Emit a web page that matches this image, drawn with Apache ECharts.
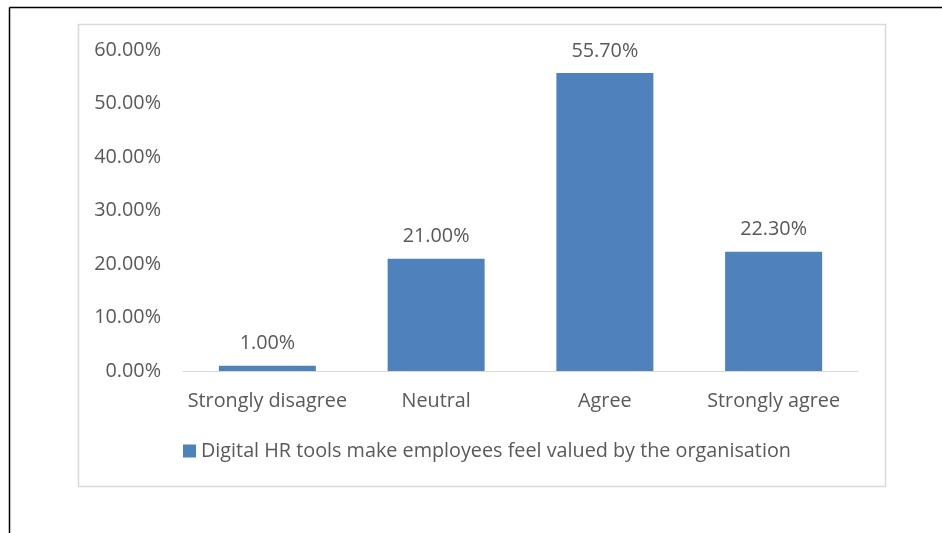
<!DOCTYPE html>
<html><head><meta charset="utf-8">
<script src="https://cdn.jsdelivr.net/npm/echarts@6/dist/echarts.min.js"></script>
<style>html,body{margin:0;padding:0;background:#fff}#c{width:942px;height:533px}</style>
</head><body><div id="c"></div>
<script>
const categories = ['Strongly disagree', 'Neutral', 'Agree', 'Strongly agree'];
const values = [1.0, 21.0, 55.7, 22.3];
const seriesName = 'Digital HR tools make employees feel valued by the organisation';
const yTicks = {min: 0, max: 60, interval: 10};

const font = '"Open Sans", sans-serif';
const fs = 19.8;
const chart = echarts.init(document.getElementById('c'), null, {renderer: 'canvas'});
chart.setOption({
  animation: false,
  backgroundColor: '#fff',
  graphic: [
    {type: 'line', shape: {x1: 9.5, y1: 7.5, x2: 942, y2: 7.5}, style: {stroke: '#000', lineWidth: 1.5}},
    {type: 'line', shape: {x1: 9.5, y1: 7.5, x2: 9.5, y2: 533}, style: {stroke: '#000', lineWidth: 1.5}},
    {type: 'rect', shape: {x: 78.5, y: 24.5, width: 807, height: 462}, style: {fill: 'none', stroke: '#d9d9d9', lineWidth: 1.5}, z: -1}
  ],
  grid: {left: 183, right: 84, top: 50, bottom: 162, containLabel: false},
  legend: {
    data: [seriesName], left: 178, top: 436, itemWidth: 13, itemHeight: 13, itemGap: 6,
    icon: 'rect',
    textStyle: {fontFamily: font, fontSize: fs, color: '#595959', padding: [0, 0, 0, 0]}
  },
  xAxis: {
    type: 'category', data: categories,
    axisLine: {lineStyle: {color: '#d9d9d9', width: 1}},
    axisTick: {show: false},
    axisLabel: {fontFamily: font, fontSize: fs, color: '#595959', margin: 20, interval: 0}
  },
  yAxis: {
    type: 'value', min: yTicks.min, max: yTicks.max, interval: yTicks.interval,
    splitLine: {show: false}, axisLine: {show: false}, axisTick: {show: false},
    axisLabel: {fontFamily: font, fontSize: fs, color: '#595959', margin: 22,
      formatter: v => v.toFixed(2) + '%'}
  },
  series: [{
    name: seriesName, type: 'bar', data: values, barWidth: 97,
    itemStyle: {color: '#4f81bd'},
    label: {show: true, position: 'top', distance: 12, fontFamily: font, fontSize: fs, color: '#595959',
      formatter: p => p.value.toFixed(2) + '%'}
  }]
});
</script></body></html>
